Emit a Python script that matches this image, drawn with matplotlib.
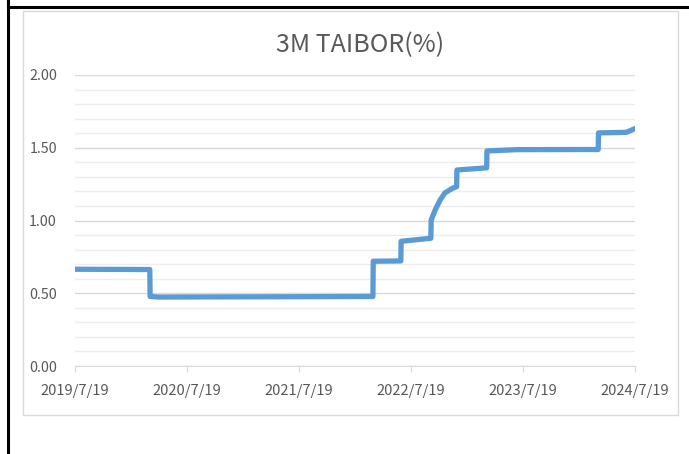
import pandas as pd
import matplotlib.pyplot as plt
from matplotlib.lines import Line2D
from matplotlib.patches import Rectangle
from matplotlib.ticker import MultipleLocator

# 3M TAIBOR daily series (points at each step change)
dates = ["2019-07-19", "2020-03-19", "2020-03-20", "2020-04-15", "2021-06-01",
         "2022-03-17", "2022-03-18", "2022-06-16", "2022-06-17", "2022-09-22",
         "2022-09-23", "2022-10-06", "2022-10-22", "2022-11-07", "2022-12-03",
         "2022-12-15", "2022-12-16", "2023-03-23", "2023-03-24", "2023-06-30",
         "2024-03-21", "2024-03-22", "2024-06-21", "2024-07-19"]
rates = [0.665, 0.663, 0.478, 0.474, 0.476,
         0.478, 0.720, 0.722, 0.857, 0.878,
         1.003, 1.072, 1.140, 1.190, 1.223,
         1.232, 1.347, 1.362, 1.478, 1.487,
         1.488, 1.602, 1.606, 1.632]

tick_dates = ["2019-07-19", "2020-07-19", "2021-07-19", "2022-07-19", "2023-07-19", "2024-07-19"]
tick_labels = ["2019/7/19", "2020/7/19", "2021/7/19", "2022/7/19", "2023/7/19", "2024/7/19"]

font = ["Noto Sans CJK TC", "DejaVu Sans"]
grey_text = "#595959"


def main():
    W, H = 689, 454
    fig = plt.figure(figsize=(W / 100, H / 100), dpi=100)

    # black frame lines (part of the screenshot) and chart-area border
    fig.add_artist(Line2D([8 / W, 8 / W], [0, 1], color="black", lw=2.2))
    fig.add_artist(Line2D([8 / W, 1], [1 - 7 / H, 1 - 7 / H], color="black", lw=2.2))
    fig.add_artist(Rectangle((23 / W, 1 - 415 / H), (678 - 23) / W, (415 - 11) / H,
                             fill=False, edgecolor="#D9D9D9", lw=1))

    ax = fig.add_axes([75 / W, 1 - 366 / H, (635 - 75) / W, (366 - 75) / H])
    x = pd.to_datetime(dates)
    ax.plot(x, rates, color="#5B9BD5", lw=3.8, solid_joinstyle="round", solid_capstyle="round")

    ax.set_xlim(pd.Timestamp(tick_dates[0]), pd.Timestamp(tick_dates[-1]))
    ax.set_ylim(0, 2)
    ax.set_xticks(pd.to_datetime(tick_dates))
    ax.set_xticklabels(tick_labels, family=font, fontsize=10.6, color=grey_text)
    ax.set_yticks([0, 0.5, 1.0, 1.5, 2.0])
    ax.set_yticklabels(["0.00", "0.50", "1.00", "1.50", "2.00"], family=font, fontsize=10.3, color=grey_text)
    ax.yaxis.set_minor_locator(MultipleLocator(0.1))

    ax.grid(axis="y", which="major", color="#D9D9D9", lw=1)
    ax.grid(axis="y", which="minor", color="#EDEDED", lw=1)
    ax.set_axisbelow(True)

    for s in ["top", "right", "left"]:
        ax.spines[s].set_visible(False)
    ax.spines["bottom"].set_color("#D9D9D9")
    ax.tick_params(axis="y", which="both", length=0, pad=13)
    ax.tick_params(axis="x", length=4, color="#D9D9D9", pad=9)

    fig.text(360 / W, 1 - 45 / H, "3M TAIBOR(%)", ha="center", va="center",
             family=font, fontsize=18, color=grey_text)

    fig.savefig("out.png", dpi=100)


if __name__ == "__main__":
    main()
